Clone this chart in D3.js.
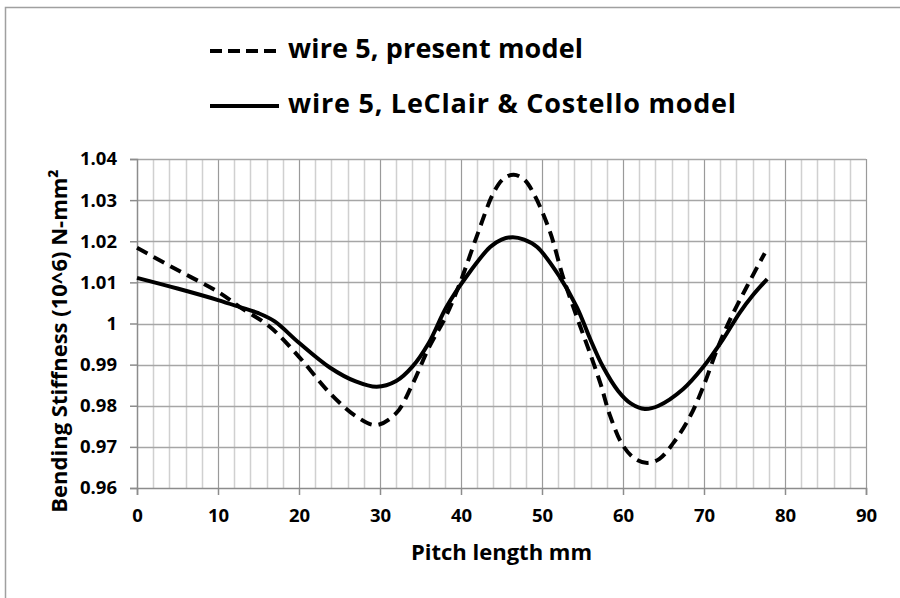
<!DOCTYPE html>
<html>
<head>
<meta charset="utf-8">
<script src="https://cdn.jsdelivr.net/npm/d3@7"></script>
<style>
  body { margin: 0; background: #fff; }
  svg { display: block; }
  text { font-family: "Open Sans", sans-serif; font-weight: bold; fill: #000; }
</style>
</head>
<body>
<svg id="chart" width="900" height="598"></svg>
<script>
// series: wire 5, present model (dashed)
const presentX = [0, 5, 10, 12.7, 16.4, 20, 23.8, 27, 29.5, 32, 34, 36, 38.2, 40, 42, 44, 45.2, 46.5, 47.8, 49, 51, 52.6, 54.3, 55.7, 57.2, 58.4, 60, 61.5, 63, 64.5, 66.2, 68.3, 69.9, 71.6, 73.2, 75.3, 77.5];
const presentY = [1.0184, 1.0130, 1.0077, 1.0040, 0.9992, 0.9919, 0.9831, 0.9775, 0.9753, 0.9782, 0.9852, 0.9940, 1.0020, 1.0105, 1.0215, 1.0317, 1.0351, 1.0362, 1.0350, 1.0315, 1.0222, 1.0113, 1.0016, 0.9940, 0.9855, 0.9776, 0.9703, 0.9671, 0.9661, 0.9671, 0.9709, 0.9775, 0.9846, 0.9936, 1.0009, 1.0090, 1.0171];

// series: wire 5, LeClair & Costello model (solid)
const leclairX = [0, 5, 10, 12.7, 15, 17, 20, 23.8, 27, 29.6, 32, 34, 36, 38.2, 40.7, 43.6, 45, 46.4, 47.8, 49.4, 52.2, 54.3, 56, 57.5, 59.4, 61, 62.7, 64.4, 67.4, 69.9, 72.3, 74.4, 76, 77.8];
const leclairY = [1.0111, 1.0085, 1.0057, 1.0040, 1.0025, 1.0005, 0.9953, 0.9893, 0.9859, 0.9846, 0.9860, 0.9895, 0.9952, 1.0040, 1.0115, 1.0186, 1.0204, 1.0210, 1.0204, 1.0186, 1.0113, 1.0040, 0.9960, 0.9896, 0.9836, 0.9805, 0.9792, 0.9800, 0.9840, 0.9894, 0.9960, 1.0026, 1.0068, 1.0108];

const xTicks = [0, 10, 20, 30, 40, 50, 60, 70, 80, 90];
const yTicks = [0.96, 0.97, 0.98, 0.99, 1, 1.01, 1.02, 1.03, 1.04];
const legendLabels = ['wire 5, present model', 'wire 5, LeClair & Costello model'];

const svg = d3.select('#chart');

// outer frame
svg.append('rect')
    .attr('x', 5.5).attr('y', 7.5)
    .attr('width', 910).attr('height', 610)
    .attr('fill', 'none')
    .attr('stroke', '#a0a0a0')
    .attr('stroke-width', 1.5);

const margin = { top: 159, left: 137 };
const width = 729;
const height = 329;

const x = d3.scaleLinear().domain([0, 90]).range([0, width]);
const y = d3.scaleLinear().domain([0.96, 1.04]).range([height, 0]);

const g = svg.append('g')
    .attr('transform', `translate(${margin.left} ${margin.top})`);

// minor vertical grid every 2 mm
const minor = d3.range(2, 90, 2).filter(v => v % 10 !== 0);
g.append('g').selectAll('line').data(minor).join('line')
    .attr('x1', d => Math.round(x(d)) + 0.5).attr('x2', d => Math.round(x(d)) + 0.5)
    .attr('y1', 0).attr('y2', height)
    .attr('stroke', '#d0d0d0').attr('stroke-width', 1.5);

// major vertical grid
g.append('g').selectAll('line').data(xTicks.slice(1)).join('line')
    .attr('x1', d => Math.round(x(d)) + 0.5).attr('x2', d => Math.round(x(d)) + 0.5)
    .attr('y1', 0).attr('y2', height)
    .attr('stroke', '#9a9a9a').attr('stroke-width', 1.2);

// horizontal grid
g.append('g').selectAll('line').data(yTicks.slice(1)).join('line')
    .attr('x1', 0).attr('x2', width)
    .attr('y1', d => Math.round(y(d)) + 0.5).attr('y2', d => Math.round(y(d)) + 0.5)
    .attr('stroke', '#a6a6a6').attr('stroke-width', 1.5);

// axes
const xAxis = g.append('g')
    .attr('transform', `translate(0 ${height})`)
    .call(d3.axisBottom(x).tickValues(xTicks).tickSize(7).tickPadding(14).tickFormat(d3.format('d')));
const yAxis = g.append('g')
    .call(d3.axisLeft(y).tickValues(yTicks).tickSize(7).tickPadding(13).tickFormat(d => d === 1 ? '1' : d3.format('.2f')(d)));

[xAxis, yAxis].forEach(a => {
    a.select('.domain').attr('stroke', '#8c8c8c').attr('stroke-width', 1.5);
    a.selectAll('.tick line').attr('stroke', '#8c8c8c').attr('stroke-width', 1.5);
    a.selectAll('.tick text')
        .attr('fill', '#000')
        .style('font', 'bold 18.5px "Open Sans", sans-serif');
});

// series lines
const line = d3.line()
    .x(d => x(d[0]))
    .y(d => y(d[1]))
    .curve(d3.curveCatmullRom.alpha(0.5));

const present = presentX.map((v, i) => [v, presentY[i]]);
const leclair = leclairX.map((v, i) => [v, leclairY[i]]);

g.append('path')
    .datum(leclair)
    .attr('fill', 'none')
    .attr('stroke', '#000')
    .attr('stroke-width', 4)
    .attr('d', line);

g.append('path')
    .datum(present)
    .attr('fill', 'none')
    .attr('stroke', '#000')
    .attr('stroke-width', 4)
    .attr('stroke-dasharray', '12,7')
    .attr('d', line);

// axis titles
svg.append('text')
    .attr('x', margin.left + width / 2)
    .attr('y', 560)
    .attr('text-anchor', 'middle')
    .style('font-size', '22px')
    .text('Pitch length mm');

svg.append('text')
    .attr('transform', 'translate(67 341) rotate(-90)')
    .attr('text-anchor', 'middle')
    .style('font-size', '22px')
    .text('Bending Stiffness (10^6) N-mm²');

// legend
const legend = svg.append('g');
const legendY = [51, 106];
const legendW = [295, 448];
legendLabels.forEach((lab, i) => {
    legend.append('line')
        .attr('x1', 210).attr('x2', 279)
        .attr('y1', legendY[i]).attr('y2', legendY[i])
        .attr('stroke', '#000')
        .attr('stroke-width', 4)
        .attr('stroke-dasharray', i === 0 ? '12,6' : null);
    legend.append('text')
        .attr('x', 288)
        .attr('y', legendY[i] + 7)
        .attr('textLength', legendW[i])
        .attr('lengthAdjust', 'spacing')
        .style('font-size', '27px')
        .text(lab);
});
</script>
</body>
</html>
